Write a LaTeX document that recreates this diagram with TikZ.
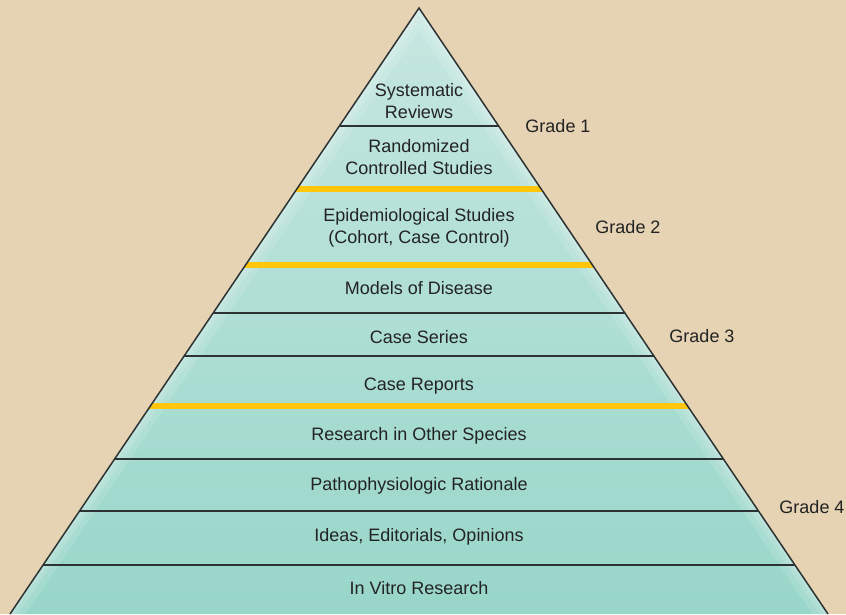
\documentclass[tikz,border=0pt]{standalone}
\usepackage{fontspec}
\setmainfont{Liberation Sans}
\definecolor{bg}{RGB}{229,211,180}
\definecolor{ptop}{RGB}{198,231,225}
\definecolor{pbot}{RGB}{152,214,201}
\definecolor{gold}{RGB}{255,198,12}
\definecolor{sepc}{RGB}{45,50,50}
\definecolor{txt}{RGB}{35,35,35}
\begin{document}
\begin{tikzpicture}[x=1pt,y=-1pt,
  lab/.style={font=\fontsize{18}{22.5}\selectfont, text=txt, align=center, inner sep=0pt},
  sepline/.style={draw=sepc, line width=1.8pt},
  goldline/.style={draw=gold, line width=6pt},
  edge/.style={draw=sepc, line width=1.5pt, line join=miter}]
\fill[bg] (0,0) rectangle (846,614);
\useasboundingbox (0,0) rectangle (846,614);
\coordinate (apex) at (419,8);
\coordinate (bl) at (10,614);
\coordinate (br) at (828,614);
\begin{scope}
  \clip (apex) -- (br) -- (bl) -- cycle;
  \shade[top color=ptop, bottom color=pbot] (0,8) rectangle (846,614);
  \draw[white, opacity=0.12, line width=26pt] (bl) -- (apex) -- (br);
  \draw[white, opacity=0.12, line width=14pt] (bl) -- (apex) -- (br);
  \draw[white, opacity=0.12, line width=6pt] (bl) -- (apex) -- (br);
  \draw[sepline] (0,126) -- (846,126);
  \draw[goldline] (0,189) -- (846,189);
  \draw[goldline] (0,265) -- (846,265);
  \draw[sepline] (0,313) -- (846,313);
  \draw[sepline] (0,356) -- (846,356);
  \draw[goldline] (0,406) -- (846,406);
  \draw[sepline] (0,459) -- (846,459);
  \draw[sepline] (0,511) -- (846,511);
  \draw[sepline] (0,565) -- (846,565);
\end{scope}
\draw[edge] (bl) -- (apex) -- (br);
\node[lab] (sr) at (419,101) {Systematic\\Reviews};
\node[lab] (rc) at (419,157) {Randomized\\Controlled Studies};
\node[lab] (ep) at (419,228) {Epidemiological Studies\\(Cohort, Case Control)};
\node[lab] (md) at (419,288) {Models of Disease};
\node[lab] (cs) at (419,337) {Case Series};
\node[lab] (cr) at (419,386) {Case Reports};
\node[lab] (ro) at (419,436) {Research in Other Species};
\node[lab] (pr) at (419,486) {Pathophysiologic Rationale};
\node[lab] (ie) at (419,537) {Ideas, Editorials, Opinions};
\node[lab] (iv) at (419,588) {In Vitro Research};
\node[lab] (g1) at (558,126) {Grade 1};
\node[lab] (g2) at (628,227) {Grade 2};
\node[lab] (g3) at (702,336) {Grade 3};
\node[lab] (g4) at (812,507) {Grade 4};
\end{tikzpicture}
\end{document}
